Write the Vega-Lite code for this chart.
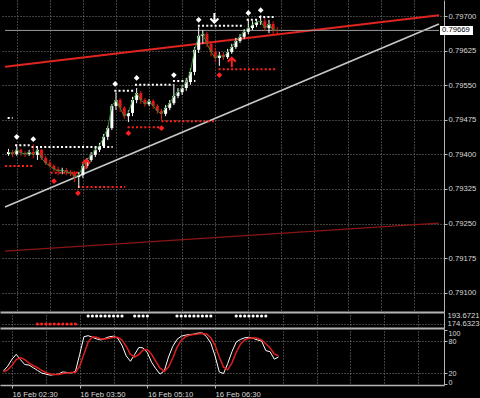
{
  "$schema": "https://vega.github.io/schema/vega-lite/v6.json",
  "background": "#000000",
  "padding": 0,
  "spacing": 0,
  "bounds": "flush",
  "config": {
    "view": {"stroke": null},
    "font": "Liberation Sans",
    "axis": {"labelFont": "Liberation Sans", "labelFontSize": 7.7, "labelColor": "#d8d8d8", "gridColor": "#808080", "gridDash": [1, 2], "gridWidth": 1, "domainColor": "#b4b4b4", "tickColor": "#b4b4b4", "labelOverlap": false, "labelFlush": false, "tickCount": 40}
  },
  "resolve": {"scale": {"x": "independent", "y": "independent"}},
  "datasets": {
    "bars": [
      {"t":140,"o":0.79401,"h":0.79412,"l":0.79397,"c":0.79405,"k":24,"d":22,"s":""},
      {"t":145,"o":0.79405,"h":0.79410,"l":0.79394,"c":0.79401,"k":33,"d":26,"s":""},
      {"t":150,"o":0.79401,"h":0.79418,"l":0.79397,"c":0.79410,"k":46,"d":34,"s":""},
      {"t":155,"o":0.79410,"h":0.79412,"l":0.79397,"c":0.79403,"k":55,"d":45,"s":""},
      {"t":160,"o":0.79403,"h":0.79407,"l":0.79394,"c":0.79401,"k":45,"d":49,"s":""},
      {"t":165,"o":0.79401,"h":0.79410,"l":0.79397,"c":0.79405,"k":36,"d":45,"s":""},
      {"t":170,"o":0.79405,"h":0.79422,"l":0.79392,"c":0.79399,"k":35,"d":39,"s":""},
      {"t":175,"o":0.79399,"h":0.79418,"l":0.79388,"c":0.79410,"k":30,"d":34,"s":""},
      {"t":180,"o":0.79410,"h":0.79412,"l":0.79388,"c":0.79392,"k":25,"d":30,"s":"r"},
      {"t":185,"o":0.79392,"h":0.79397,"l":0.79377,"c":0.79381,"k":20,"d":25,"s":"r"},
      {"t":190,"o":0.79381,"h":0.79388,"l":0.79371,"c":0.79375,"k":18,"d":21,"s":"r"},
      {"t":195,"o":0.79375,"h":0.79379,"l":0.79362,"c":0.79368,"k":16,"d":18,"s":"r"},
      {"t":200,"o":0.79368,"h":0.79373,"l":0.79355,"c":0.79364,"k":17,"d":17,"s":"r"},
      {"t":205,"o":0.79364,"h":0.79371,"l":0.79357,"c":0.79366,"k":18,"d":17,"s":"r"},
      {"t":210,"o":0.79366,"h":0.79371,"l":0.79355,"c":0.79362,"k":22,"d":19,"s":"r"},
      {"t":215,"o":0.79362,"h":0.79366,"l":0.79353,"c":0.79360,"k":21,"d":20,"s":"r"},
      {"t":220,"o":0.79360,"h":0.79364,"l":0.79340,"c":0.79351,"k":20,"d":21,"s":"r"},
      {"t":225,"o":0.79351,"h":0.79362,"l":0.79327,"c":0.79355,"k":23,"d":21,"s":"r"},
      {"t":230,"o":0.79355,"h":0.79379,"l":0.79349,"c":0.79375,"k":55,"d":33,"s":""},
      {"t":235,"o":0.79375,"h":0.79392,"l":0.79371,"c":0.79388,"k":88,"d":55,"s":""},
      {"t":240,"o":0.79388,"h":0.79405,"l":0.79384,"c":0.79399,"k":90,"d":78,"s":"w"},
      {"t":245,"o":0.79399,"h":0.79416,"l":0.79394,"c":0.79410,"k":87,"d":88,"s":"w"},
      {"t":250,"o":0.79410,"h":0.79425,"l":0.79405,"c":0.79418,"k":84,"d":87,"s":"w"},
      {"t":255,"o":0.79418,"h":0.79444,"l":0.79414,"c":0.79438,"k":82,"d":84,"s":"w"},
      {"t":260,"o":0.79438,"h":0.79462,"l":0.79431,"c":0.79457,"k":85,"d":84,"s":"w"},
      {"t":265,"o":0.79457,"h":0.79509,"l":0.79453,"c":0.79505,"k":88,"d":85,"s":"w"},
      {"t":270,"o":0.79505,"h":0.79535,"l":0.79496,"c":0.79518,"k":89,"d":87,"s":"w"},
      {"t":275,"o":0.79518,"h":0.79522,"l":0.79492,"c":0.79501,"k":85,"d":87,"s":"w"},
      {"t":280,"o":0.79501,"h":0.79505,"l":0.79477,"c":0.79483,"k":72,"d":82,"s":"w"},
      {"t":285,"o":0.79483,"h":0.79496,"l":0.79470,"c":0.79490,"k":52,"d":70,"s":""},
      {"t":290,"o":0.79490,"h":0.79525,"l":0.79483,"c":0.79518,"k":42,"d":55,"s":""},
      {"t":295,"o":0.79518,"h":0.79544,"l":0.79511,"c":0.79533,"k":55,"d":50,"s":"w"},
      {"t":300,"o":0.79533,"h":0.79538,"l":0.79509,"c":0.79518,"k":68,"d":55,"s":"w"},
      {"t":305,"o":0.79518,"h":0.79522,"l":0.79503,"c":0.79509,"k":67,"d":63,"s":"w"},
      {"t":310,"o":0.79509,"h":0.79520,"l":0.79505,"c":0.79516,"k":58,"d":64,"s":"w"},
      {"t":315,"o":0.79516,"h":0.79520,"l":0.79499,"c":0.79505,"k":40,"d":55,"s":""},
      {"t":320,"o":0.79505,"h":0.79509,"l":0.79488,"c":0.79494,"k":28,"d":42,"s":""},
      {"t":325,"o":0.79494,"h":0.79499,"l":0.79475,"c":0.79488,"k":18,"d":29,"s":""},
      {"t":330,"o":0.79488,"h":0.79507,"l":0.79483,"c":0.79501,"k":24,"d":23,"s":""},
      {"t":335,"o":0.79501,"h":0.79518,"l":0.79496,"c":0.79511,"k":50,"d":31,"s":""},
      {"t":340,"o":0.79511,"h":0.79553,"l":0.79507,"c":0.79527,"k":70,"d":48,"s":""},
      {"t":345,"o":0.79527,"h":0.79544,"l":0.79522,"c":0.79535,"k":83,"d":68,"s":"w"},
      {"t":350,"o":0.79535,"h":0.79551,"l":0.79529,"c":0.79544,"k":89,"d":81,"s":"w"},
      {"t":355,"o":0.79544,"h":0.79566,"l":0.79538,"c":0.79557,"k":91,"d":88,"s":"w"},
      {"t":360,"o":0.79557,"h":0.79587,"l":0.79551,"c":0.79579,"k":92,"d":91,"s":"w"},
      {"t":365,"o":0.79579,"h":0.79633,"l":0.79572,"c":0.79627,"k":93,"d":92,"s":"w"},
      {"t":370,"o":0.79627,"h":0.79676,"l":0.79620,"c":0.79657,"k":95,"d":93,"s":"w"},
      {"t":375,"o":0.79657,"h":0.79670,"l":0.79640,"c":0.79661,"k":95,"d":94,"s":"w"},
      {"t":380,"o":0.79661,"h":0.79666,"l":0.79633,"c":0.79640,"k":88,"d":93,"s":"w"},
      {"t":385,"o":0.79640,"h":0.79646,"l":0.79613,"c":0.79622,"k":76,"d":86,"s":"w"},
      {"t":390,"o":0.79622,"h":0.79631,"l":0.79600,"c":0.79609,"k":52,"d":72,"s":""},
      {"t":395,"o":0.79609,"h":0.79622,"l":0.79592,"c":0.79616,"k":22,"d":50,"s":""},
      {"t":400,"o":0.79616,"h":0.79622,"l":0.79605,"c":0.79611,"k":19,"d":31,"s":""},
      {"t":405,"o":0.79611,"h":0.79629,"l":0.79607,"c":0.79622,"k":38,"d":26,"s":""},
      {"t":410,"o":0.79622,"h":0.79640,"l":0.79618,"c":0.79633,"k":60,"d":39,"s":""},
      {"t":415,"o":0.79633,"h":0.79653,"l":0.79629,"c":0.79646,"k":78,"d":59,"s":"w"},
      {"t":420,"o":0.79646,"h":0.79661,"l":0.79642,"c":0.79655,"k":83,"d":74,"s":"w"},
      {"t":425,"o":0.79655,"h":0.79672,"l":0.79650,"c":0.79666,"k":86,"d":82,"s":"w"},
      {"t":430,"o":0.79666,"h":0.79692,"l":0.79661,"c":0.79674,"k":87,"d":85,"s":"w"},
      {"t":435,"o":0.79674,"h":0.79689,"l":0.79670,"c":0.79681,"k":85,"d":86,"s":"w"},
      {"t":440,"o":0.79681,"h":0.79694,"l":0.79676,"c":0.79687,"k":82,"d":85,"s":"w"},
      {"t":445,"o":0.79687,"h":0.79702,"l":0.79681,"c":0.79689,"k":80,"d":82,"s":"w"},
      {"t":450,"o":0.79689,"h":0.79696,"l":0.79668,"c":0.79674,"k":62,"d":75,"s":"w"},
      {"t":455,"o":0.79674,"h":0.79692,"l":0.79663,"c":0.79683,"k":60,"d":67,"s":""},
      {"t":460,"o":0.79683,"h":0.79689,"l":0.79659,"c":0.79670,"k":46,"d":56,"s":""},
      {"t":465,"o":0.79670,"h":0.79676,"l":0.79661,"c":0.79669,"k":50,"d":52,"s":""}
    ],
    "trend": [
      {"line":"red","t":135.8,"price":0.79590},{"line":"red","t":660.6,"price":0.79702},
      {"line":"white","t":135.8,"price":0.79286},{"line":"white","t":660.6,"price":0.79683},
      {"line":"dark","t":135.8,"price":0.79190},{"line":"dark","t":660.6,"price":0.79251},
      {"line":"bid","t":135.8,"price":0.79669},{"line":"bid","t":660.6,"price":0.79669}
    ],
    "levels": [
      {"kind":"res","t1":139,"t2":145,"price":0.79479},
      {"kind":"res","t1":148,"t2":168,"price":0.79420},
      {"kind":"res","t1":168,"t2":266,"price":0.79416},
      {"kind":"res","t1":268,"t2":291,"price":0.79538},
      {"kind":"res","t1":293,"t2":339,"price":0.79551},
      {"kind":"res","t1":339,"t2":366,"price":0.79559},
      {"kind":"res","t1":369,"t2":425,"price":0.79679},
      {"kind":"res","t1":428,"t2":441,"price":0.79692},
      {"kind":"res","t1":443,"t2":463,"price":0.79698},
      {"kind":"sup","t1":136,"t2":171,"price":0.79375},
      {"kind":"sup","t1":191,"t2":224,"price":0.79360},
      {"kind":"sup","t1":224,"t2":281,"price":0.79329},
      {"kind":"sup","t1":284,"t2":325,"price":0.79459},
      {"kind":"sup","t1":325,"t2":390,"price":0.79472},
      {"kind":"sup","t1":394,"t2":463,"price":0.79585}
    ],
    "signals": [
      {"kind":"hi","t":150,"price":0.79438},
      {"kind":"hi","t":170,"price":0.79433},
      {"kind":"hi","t":269,"price":0.79553},
      {"kind":"hi","t":295,"price":0.79566},
      {"kind":"hi","t":340,"price":0.79572},
      {"kind":"hi","t":370,"price":0.79692},
      {"kind":"hi","t":430,"price":0.79707},
      {"kind":"hi","t":445,"price":0.79713},
      {"kind":"lo","t":195,"price":0.79342},
      {"kind":"lo","t":224,"price":0.79316},
      {"kind":"lo","t":285,"price":0.79446},
      {"kind":"lo","t":325,"price":0.79457},
      {"kind":"lo","t":395,"price":0.79572},
      {"kind":"sell","t":389,"price":0.79696},
      {"kind":"buy","t":234,"price":0.79379},
      {"kind":"buy","t":410,"price":0.79600}
    ],
    "bid": [{"t":661.8,"price":0.79669,"label":"0.79669"}]
  },
  "vconcat": [
    {
      "width": 444,
      "height": 312,
      "layer": [
        {
          "data": {"name": "trend"},
          "mark": {"type": "line"},
          "encoding": {
            "x": {"field": "t", "type": "quantitative", "scale": {"domain": [135.8, 660.6], "nice": false, "zero": false},
                  "axis": {"title": null, "tickCount": 40, "values": [150,190,230,270,310,350,390,430,470,510,550,590,630], "labels": false, "ticks": false, "domain": true, "domainWidth": 2, "grid": true}},
            "y": {"field": "price", "type": "quantitative", "scale": {"domain": [0.79058, 0.79735], "nice": false, "zero": false},
                  "axis": {"title": null, "tickCount": 40, "orient": "right", "values": [0.791, 0.79175, 0.7925, 0.79325, 0.794, 0.79475, 0.7955, 0.79625, 0.797], "format": ".5f", "tickSize": 3, "labelPadding": 1, "grid": true, "domainWidth": 1, "labelOverlap": false}},
            "color": {"field": "line", "type": "nominal", "scale": {"domain": ["red", "white", "dark", "bid"], "range": ["#e0241f", "#c8c8c8", "#8b1515", "#9a9a9a"]}, "legend": null},
            "strokeWidth": {"field": "line", "type": "nominal", "scale": {"domain": ["red", "white", "dark", "bid"], "range": [2, 1, 1, 1]}, "legend": null}
          }
        },
        {
          "data": {"name": "levels"},
          "mark": {"type": "rule", "strokeWidth": 2, "strokeDash": [2, 2.2]},
          "encoding": {
            "x": {"field": "t1", "type": "quantitative", "scale": {"domain": [135.8, 660.6], "nice": false, "zero": false}},
            "x2": {"field": "t2"},
            "y": {"field": "price", "type": "quantitative", "scale": {"domain": [0.79058, 0.79735], "nice": false, "zero": false}},
            "color": {"condition": {"test": "datum.kind == 'res'", "value": "#ffffff"}, "value": "#ff2020"}
          }
        },
        {
          "data": {"name": "bars"},
          "mark": {"type": "rule", "strokeWidth": 1},
          "encoding": {
            "x": {"field": "t", "type": "quantitative", "scale": {"domain": [135.8, 660.6], "nice": false, "zero": false}},
            "y": {"field": "l", "type": "quantitative", "scale": {"domain": [0.79058, 0.79735], "nice": false, "zero": false}},
            "y2": {"field": "h"},
            "color": {"condition": {"test": "datum.c >= datum.o", "value": "#ffffff"}, "value": "#e41818"}
          }
        },
        {
          "data": {"name": "bars"},
          "mark": {"type": "bar", "size": 3},
          "encoding": {
            "x": {"field": "t", "type": "quantitative", "scale": {"domain": [135.8, 660.6], "nice": false, "zero": false}},
            "y": {"field": "o", "type": "quantitative", "scale": {"domain": [0.79058, 0.79735], "nice": false, "zero": false}},
            "y2": {"field": "c"},
            "color": {"condition": {"test": "datum.c >= datum.o", "value": "#ffffff"}, "value": "#e41818"}
          }
        },
        {
          "data": {"name": "bars"},
          "mark": {"type": "line", "color": "#2f8f2f", "strokeWidth": 1},
          "encoding": {
            "x": {"field": "t", "type": "quantitative", "scale": {"domain": [135.8, 660.6], "nice": false, "zero": false}},
            "y": {"field": "c", "type": "quantitative", "scale": {"domain": [0.79058, 0.79735], "nice": false, "zero": false}}
          }
        },
        {
          "data": {"name": "signals"},
          "transform": [{"filter": "datum.kind == 'hi' || datum.kind == 'lo'"}],
          "mark": {"type": "point", "shape": "diamond", "filled": true, "size": 32, "opacity": 1},
          "encoding": {
            "x": {"field": "t", "type": "quantitative", "scale": {"domain": [135.8, 660.6], "nice": false, "zero": false}},
            "y": {"field": "price", "type": "quantitative", "scale": {"domain": [0.79058, 0.79735], "nice": false, "zero": false}},
            "color": {"condition": {"test": "datum.kind == 'hi'", "value": "#ffffff"}, "value": "#ff2020"}
          }
        },
        {
          "data": {"name": "signals"},
          "transform": [{"filter": "datum.kind == 'buy'"}],
          "mark": {"type": "point", "shape": "M0,1 L0,-0.9 M-0.8,-0.1 L0,-0.9 L0.8,-0.1", "filled": false, "strokeWidth": 2, "size": 100, "opacity": 1, "color": "#ff2020"},
          "encoding": {
            "x": {"field": "t", "type": "quantitative", "scale": {"domain": [135.8, 660.6], "nice": false, "zero": false}},
            "y": {"field": "price", "type": "quantitative", "scale": {"domain": [0.79058, 0.79735], "nice": false, "zero": false}}
          }
        },
        {
          "data": {"name": "signals"},
          "transform": [{"filter": "datum.kind == 'sell'"}],
          "mark": {"type": "point", "shape": "M0,-1 L0,0.9 M-0.8,0.1 L0,0.9 L0.8,0.1", "filled": false, "strokeWidth": 2, "size": 100, "opacity": 1, "color": "#ffffff"},
          "encoding": {
            "x": {"field": "t", "type": "quantitative", "scale": {"domain": [135.8, 660.6], "nice": false, "zero": false}},
            "y": {"field": "price", "type": "quantitative", "scale": {"domain": [0.79058, 0.79735], "nice": false, "zero": false}}
          }
        },
        {
          "data": {"name": "bid"},
          "mark": {"type": "point", "shape": "M0,-0.9 L6.6,-0.9 L6.6,0.9 L0,0.9 Z", "filled": true, "size": 100, "opacity": 1, "color": "#ffffff", "strokeWidth": 0},
          "encoding": {
            "x": {"field": "t", "type": "quantitative", "scale": {"domain": [135.8, 660.6], "nice": false, "zero": false}},
            "y": {"field": "price", "type": "quantitative", "scale": {"domain": [0.79058, 0.79735], "nice": false, "zero": false}}
          }
        },
        {
          "data": {"name": "bid"},
          "mark": {"type": "text", "align": "left", "baseline": "middle", "dx": 2, "fontSize": 7.7, "color": "#000000", "font": "Liberation Sans"},
          "encoding": {
            "x": {"field": "t", "type": "quantitative", "scale": {"domain": [135.8, 660.6], "nice": false, "zero": false}},
            "y": {"field": "price", "type": "quantitative", "scale": {"domain": [0.79058, 0.79735], "nice": false, "zero": false}},
            "text": {"field": "label"}
          }
        }
      ]
    },
    {
      "width": 444,
      "height": 16,
      "data": {"name": "bars"},
      "layer": [
        {
          "transform": [{"filter": "datum.s == 'w'"}],
          "mark": {"type": "point", "shape": "circle", "filled": true, "size": 10, "opacity": 1, "color": "#ffffff"},
          "encoding": {
            "x": {"field": "t", "type": "quantitative", "scale": {"domain": [135.8, 660.6], "nice": false, "zero": false},
                  "axis": {"title": null, "tickCount": 40, "values": [150,190,230,270,310,350,390,430,470,510,550,590,630], "labels": false, "ticks": false, "domain": true, "domainWidth": 2, "grid": true}},
            "y": {"datum": 193.6721, "type": "quantitative", "scale": {"domain": [165.11, 203.19], "nice": false, "zero": false},
                  "axis": {"title": null, "tickCount": 40, "orient": "right", "values": [174.6323, 193.6721], "format": ".4f", "tickSize": 0, "labelPadding": 3, "grid": true, "labelOverlap": false,
                           "gridOpacity": {"condition": {"test": "datum.value < 180", "value": 1}, "value": 0}}}
          }
        },
        {
          "transform": [{"filter": "datum.s == 'r'"}],
          "mark": {"type": "point", "shape": "circle", "filled": true, "size": 10, "opacity": 1, "color": "#ff2020"},
          "encoding": {
            "x": {"field": "t", "type": "quantitative", "scale": {"domain": [135.8, 660.6], "nice": false, "zero": false}},
            "y": {"datum": 174.6323, "type": "quantitative", "scale": {"domain": [165.11, 203.19], "nice": false, "zero": false}}
          }
        }
      ]
    },
    {
      "width": 444,
      "height": 57,
      "data": {"name": "bars"},
      "layer": [
        {
          "mark": {"type": "line", "color": "#ffffff", "strokeWidth": 1},
          "encoding": {
            "x": {"field": "t", "type": "quantitative", "scale": {"domain": [135.8, 660.6], "nice": false, "zero": false},
                  "axis": {"title": null, "tickCount": 40, "values": [150,190,230,270,310,350,390,430,470,510,550,590,630], "labelOverlap": false,
                           "labelExpr": "datum.value == 150 ? '16 Feb 02:30' : datum.value == 230 ? '16 Feb 03:50' : datum.value == 310 ? '16 Feb 05:10' : datum.value == 390 ? '16 Feb 06:30' : ''",
                           "labelAlign": "left", "labelPadding": 2, "tickSize": 3,
                           "tickOpacity": {"condition": {"test": "datum.value == 150 || datum.value == 230 || datum.value == 310 || datum.value == 390", "value": 1}, "value": 0},
                           "domain": true, "domainWidth": 1.5, "grid": true}},
            "y": {"field": "k", "type": "quantitative", "scale": {"domain": [-2.5, 104.4], "nice": false, "zero": false},
                  "axis": {"title": null, "tickCount": 40, "orient": "right", "values": [0, 20, 80, 100], "tickSize": 3, "labelPadding": 1, "grid": true, "labelOverlap": false, "labelFontSize": 7.2,
                           "gridOpacity": {"condition": {"test": "datum.value == 20 || datum.value == 80", "value": 1}, "value": 0},
                           "labelOffset": {"condition": [{"test": "datum.value == 100", "value": 3}, {"test": "datum.value == 0", "value": -1}], "value": 0}}}
          }
        },
        {
          "mark": {"type": "line", "color": "#e01e1e", "strokeWidth": 1.5},
          "encoding": {
            "x": {"field": "t", "type": "quantitative", "scale": {"domain": [135.8, 660.6], "nice": false, "zero": false}},
            "y": {"field": "d", "type": "quantitative", "scale": {"domain": [-2.5, 104.4], "nice": false, "zero": false}}
          }
        }
      ]
    }
  ]
}
